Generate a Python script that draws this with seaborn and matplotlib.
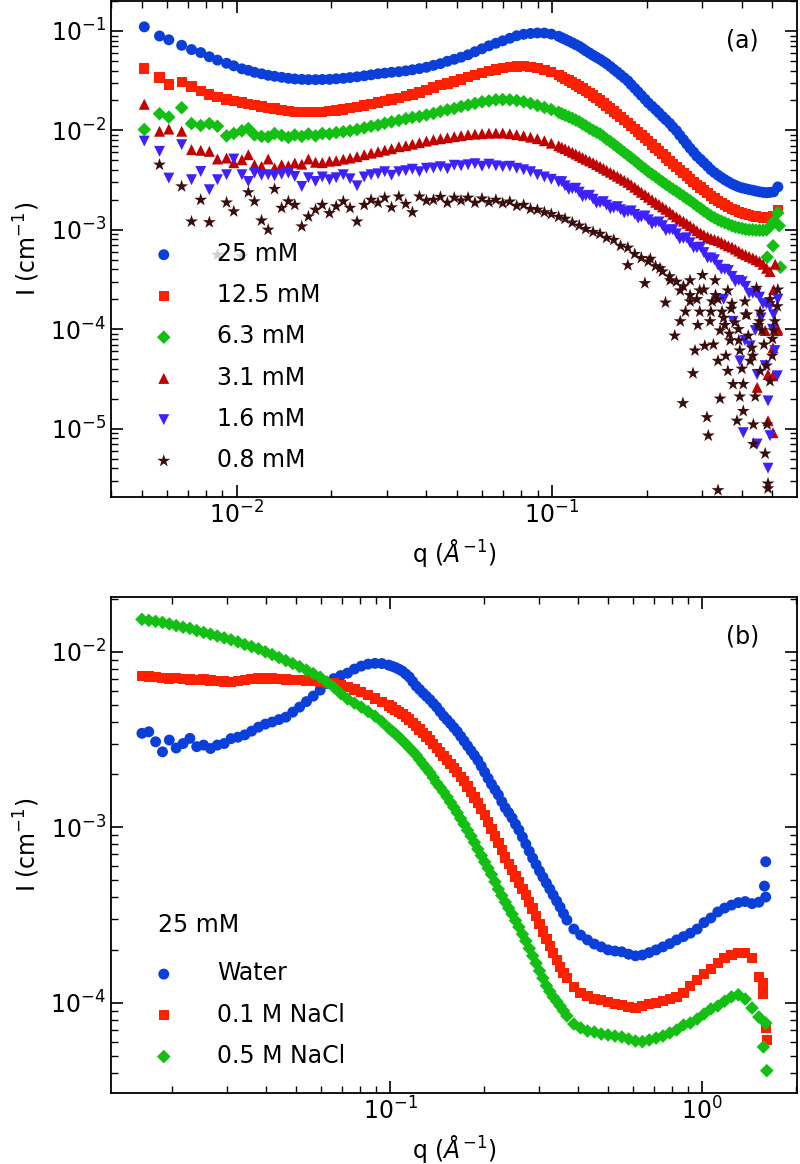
import numpy as np
import pandas as pd
import matplotlib
matplotlib.use("Agg")
import matplotlib.pyplot as plt
import seaborn as sns

# ---------------- panel (a): concentration series ----------------
q_a = [0.0051, 0.0057, 0.0061, 0.0067, 0.0072, 0.0077, 0.0082, 0.0087, 0.0093, 0.0098,
       0.0104, 0.0109, 0.0114, 0.0120, 0.0126, 0.0132, 0.0139, 0.0146, 0.0153, 0.0161,
       0.0169, 0.0178, 0.0187, 0.0197,
       0.0207, 0.0218, 0.0229, 0.0241, 0.0254, 0.0267, 0.0281, 0.0295, 0.0310, 0.0327,
       0.0344, 0.0361, 0.0380, 0.0400, 0.0421, 0.0443, 0.0466, 0.0490, 0.0515, 0.0542,
       0.0570, 0.0600, 0.0631, 0.0664, 0.0698, 0.0735, 0.0773, 0.0813, 0.0855, 0.0899,
       0.0946, 0.0995, 0.105, 0.110, 0.116, 0.122, 0.128, 0.135, 0.142, 0.149,
       0.157, 0.165, 0.174, 0.183, 0.192, 0.202, 0.213, 0.224, 0.236, 0.248,
       0.261, 0.274, 0.288, 0.303, 0.319, 0.336, 0.353, 0.372, 0.391, 0.411,
       0.433, 0.455, 0.479, 0.504, 0.520]

i_25mM = [0.110, 0.089, 0.0815, 0.0718, 0.065, 0.0606, 0.055, 0.0509, 0.0473, 0.0446,
          0.0416, 0.0402, 0.0384, 0.0371, 0.0358, 0.0350, 0.0342, 0.0334, 0.0329, 0.0326,
          0.0324, 0.0324, 0.0325, 0.0326,
          0.0330, 0.0334, 0.0340, 0.0346, 0.0354, 0.0362, 0.0371, 0.0377, 0.0384, 0.0389,
          0.0397, 0.0407, 0.0418, 0.0431, 0.0451, 0.0469, 0.0496, 0.0519, 0.0544, 0.0576,
          0.0618, 0.0662, 0.0709, 0.0752, 0.0796, 0.0844, 0.0895, 0.0926, 0.0944, 0.0955,
          0.0953, 0.0930, 0.0884, 0.0825, 0.0760, 0.0701, 0.0632, 0.0569, 0.0519, 0.0469,
          0.0411, 0.0362, 0.0315, 0.0265, 0.0225, 0.0189, 0.0162, 0.0138, 0.0118, 0.00993,
          0.00806, 0.00662, 0.00550, 0.00473, 0.00402, 0.00354, 0.00319, 0.00290, 0.00270, 0.00259,
          0.00250, 0.00241, 0.00236, 0.00241, 0.00270]

i_12mM = [0.0418, 0.0340, 0.0290, 0.0306, 0.0277, 0.0249, 0.0230, 0.0215, 0.0205, 0.0198,
          0.0191, 0.0185, 0.0180, 0.0174, 0.0169, 0.0166, 0.0161, 0.0157, 0.0154, 0.0153,
          0.0152, 0.0152, 0.0154, 0.0156,
          0.0159, 0.0162, 0.0168, 0.0172, 0.0178, 0.0185, 0.0191, 0.0198, 0.0205, 0.0213,
          0.0220, 0.0230, 0.0241, 0.0253, 0.0270, 0.0284, 0.0297, 0.0311, 0.0326, 0.0346,
          0.0362, 0.0379, 0.0397, 0.0411, 0.0421, 0.0431, 0.0438, 0.0441, 0.0436, 0.0426,
          0.0407, 0.0384, 0.0358, 0.0330, 0.0304, 0.0277, 0.0250, 0.0225, 0.0200, 0.0177,
          0.0155, 0.0137, 0.0119, 0.0103, 0.0090, 0.0078, 0.0067, 0.00576, 0.00496, 0.00426,
          0.00375, 0.00326, 0.00284, 0.00250, 0.00218, 0.00194, 0.00177, 0.00162, 0.00152, 0.00143,
          0.00138, 0.00135, 0.00132, 0.00138, 0.00159]

i_6mM = [0.0102, 0.0147, 0.0136, 0.0169, 0.0117, 0.0112, 0.0117, 0.0110, 0.0088, 0.0093,
         0.0099, 0.0104, 0.0090, 0.0087, 0.0086, 0.0093, 0.0089, 0.0085, 0.0090, 0.0087,
         0.0092, 0.0088, 0.0093, 0.0092,
         0.0095, 0.0097, 0.0099, 0.0102, 0.0106, 0.0110, 0.0113, 0.0118, 0.0122, 0.0126,
         0.0131, 0.0135, 0.0138, 0.0143, 0.0148, 0.0155, 0.0161, 0.0166, 0.0174, 0.0180,
         0.0187, 0.0194, 0.0198, 0.0203, 0.0204, 0.0203, 0.0200, 0.0194, 0.0187, 0.0178,
         0.0170, 0.0162, 0.0152, 0.0142, 0.0132, 0.0122, 0.0111, 0.0100, 0.0092, 0.00815,
         0.00726, 0.0064, 0.00563, 0.00496, 0.00436, 0.00384, 0.00342, 0.00304, 0.0027, 0.00244,
         0.00218, 0.00196, 0.00174, 0.00155, 0.00138, 0.00126, 0.00118, 0.0011, 0.00105, 0.00101,
         0.0010, 0.00099, 0.0010, 0.0012, 0.00148]

i_3mM = [0.0183, 0.0098, 0.0103, 0.0098, 0.0064, 0.0063, 0.00615, 0.00515, 0.00527, 0.00473,
         0.00507, 0.00569, 0.00451, 0.00434, 0.00515, 0.00418, 0.00451, 0.00440, 0.00470, 0.00457,
         0.00515, 0.00478, 0.00473, 0.00490,
         0.00496, 0.00513, 0.00527, 0.00544, 0.00569, 0.0059, 0.0061, 0.00632, 0.00654, 0.00685,
         0.00701, 0.00726, 0.00752, 0.0078, 0.00806, 0.00825, 0.00844, 0.00864, 0.00884, 0.00905,
         0.00916, 0.00926, 0.00937, 0.0094, 0.0094, 0.00926, 0.00905, 0.00884, 0.00854, 0.00825,
         0.00787, 0.00743, 0.00701, 0.00654, 0.00603, 0.00556, 0.00513, 0.00473, 0.00434, 0.00397,
         0.00362, 0.0033, 0.0030, 0.00268, 0.00239, 0.00213, 0.00189, 0.0017, 0.00152, 0.00135,
         0.00122, 0.0011, 0.00098, 0.00089, 0.00082, 0.00078, 0.00072, 0.00067, 0.00061, 0.00056,
         0.00052, 0.00048, 0.00041, 0.00025, 0.0001]

i_1mM = [0.0078, 0.00615, 0.00331, 0.00718, 0.00319, 0.00386, 0.00253, 0.00319, 0.00358, 0.00515,
         0.00358, 0.00306, 0.00372, 0.00354, 0.00358, 0.0035, 0.00362, 0.00372, 0.00344, 0.00273,
         0.00334, 0.00306, 0.0034, 0.00319,
         0.00334, 0.00358, 0.00326, 0.00277, 0.0034, 0.00358, 0.00366, 0.00384, 0.00354, 0.00384,
         0.00393, 0.00407, 0.00384, 0.00416, 0.00418, 0.00431, 0.00411, 0.00446, 0.0044, 0.00451,
         0.00462, 0.00436, 0.00457, 0.0044, 0.00431, 0.00436, 0.00416, 0.00402, 0.00384, 0.00358,
         0.0034, 0.00322, 0.00304, 0.00277, 0.00259, 0.00239, 0.0022, 0.00203, 0.00187, 0.00177,
         0.00166, 0.00159, 0.00152, 0.00143, 0.00135, 0.00126, 0.00118, 0.0011, 0.001, 0.00091,
         0.00082, 0.00074, 0.00066, 0.00059, 0.00052, 0.00044, 0.0004, 0.00034, 0.00031, 0.00027,
         0.00023, 0.00021, 0.00018, 0.00014, 0.0002]

i_08mM = [np.nan, 0.00451, np.nan, 0.00273, 0.00121, 0.002, 0.00119, 0.00056, 0.00188, 0.00153,
          0.00054, 0.00238, 0.00193, 0.00124, 0.001, 0.00257, 0.00166, 0.00193, 0.00178, 0.00108,
          0.00136, 0.00159, 0.00178, 0.00147,
          0.00172, 0.00193, 0.00166, 0.00121, 0.00178, 0.002, 0.00187, 0.0021, 0.00168, 0.00216,
          0.00182, 0.0015, 0.00216, 0.00196, 0.002, 0.00214, 0.00187, 0.0021, 0.00197, 0.0021,
          0.00187, 0.00206, 0.0019, 0.002, 0.00185, 0.00192, 0.00174, 0.00178, 0.00162, 0.00159,
          0.0015, 0.00144, 0.00135, 0.00129, 0.00118, 0.0011, 0.00102, 0.00095, 0.00091, 0.00083,
          0.00079, 0.00069, 0.00066, 0.00057, 0.00052, 0.00048, 0.00043, 0.00038, 0.00034, 0.0003,
          0.00027, 0.00022, 0.0002, 0.00025, 0.00015, 0.0002, 0.00011, 0.00018, 0.000077, 0.00014,
          0.000054, 0.00012, 0.000043, 0.000097, 0.00025]

# extra readings between grid points where the bands fall steeply
q_a_mid = [0.1074, 0.1130, 0.1189, 0.1250, 0.1315, 0.1384, 0.1455, 0.1531, 0.1611, 0.1694,
           0.1782, 0.1875, 0.1972, 0.2075, 0.2183, 0.2296, 0.2415, 0.2541, 0.2673, 0.2812,
           0.2958, 0.3112, 0.3273, 0.3443, 0.3622, 0.3811, 0.4009, 0.4217, 0.4436, 0.4667,
           0.4909]
i_25mM_mid = [0.0854, 0.0792, 0.073, 0.0666, 0.06, 0.0543, 0.0493, 0.0439, 0.0386, 0.0338,
              0.0289, 0.0244, 0.0206, 0.0175, 0.015, 0.0128, 0.0108, 0.00895, 0.0073, 0.00604,
              0.0051, 0.00436, 0.00377, 0.00336, 0.00304, 0.0028, 0.00264, 0.00254, 0.00245, 0.00238,
              0.00238]
i_12mM_mid = [0.0344, 0.0317, 0.029, 0.0263, 0.0237, 0.0212, 0.0188, 0.0166, 0.0146, 0.0128,
              0.0111, 0.0096, 0.0084, 0.0072, 0.0062, 0.00534, 0.0046, 0.004, 0.0035, 0.00304,
              0.00266, 0.00233, 0.00206, 0.00185, 0.0017, 0.00157, 0.00147, 0.0014, 0.00136, 0.00133,
              0.00135]
i_6mM_mid = [0.0147, 0.0137, 0.0127, 0.0116, 0.0105, 0.0096, 0.0087, 0.0077, 0.0068, 0.006,
             0.0053, 0.00465, 0.0041, 0.00362, 0.00322, 0.00287, 0.00257, 0.00231, 0.00207, 0.00185,
             0.00164, 0.00146, 0.00132, 0.00122, 0.00114, 0.00107, 0.00103, 0.001, 0.00099, 0.00099,
             0.00108]
i_3mM_mid = [0.00677, 0.00628, 0.00579, 0.00534, 0.00493, 0.00453, 0.00415, 0.00379, 0.00346, 0.00315,
             0.00284, 0.00253, 0.00226, 0.00201, 0.0018, 0.00161, 0.00143, 0.00128, 0.00116, 0.00104,
             0.00093, 0.00085, 0.0008, 0.00075, 0.00069, 0.00064, 0.00058, 0.00054, 0.0005, 0.00045,
             0.00038]
i_1mM_mid = [0.00305, 0.00255, 0.00262, 0.00215, 0.00222, 0.00185, 0.00192, 0.00163, 0.00171, 0.00148,
             0.00155, 0.00131, 0.00138, 0.00114, 0.0012, 0.00098, 0.001, 0.00081, 0.00083, 0.00066,
             0.00067, 0.00052, 0.0005, 0.0004, 0.00039, 0.0003, 0.0003, 0.00023, 0.00023, 0.00018,
             0.00017]

# noisy high-q points (off the main grid)
q_tail_6mM = [0.530, 0.481, 0.502, 0.525]
i_tail_6mM = [4.2e-4, 5.3e-4, 6.9e-4, 1.1e-3]

q_tail_3mM = [0.518, 0.502, 0.484, 0.502, 0.484, 0.502, 0.447, 0.474, 0.491, 0.510]
i_tail_3mM = [9.7e-5, 6.5e-5, 3.5e-5, 3.4e-5, 1.2e-5, 9.1e-6, 2.6e-5, 9.7e-5, 1.9e-4, 4.5e-4]

q_tail_1mM = [0.404, 0.447, 0.491, 0.484, 0.484, 0.447, 0.394, 0.425, 0.474, 0.509,
              0.518, 0.375, 0.409, 0.441, 0.350, 0.460, 0.500]
i_tail_1mM = [9.1e-6, 7.0e-6, 8.5e-6, 4.0e-6, 1.9e-5, 3.5e-5, 4.8e-5, 6.8e-5, 4.3e-5, 6.1e-5,
              3.4e-5, 1.2e-4, 7.7e-5, 9.7e-5, 2.0e-4, 1.3e-4, 1.0e-4]

q_tail_08mM = [0.174, 0.197, 0.205, 0.220, 0.229, 0.237, 0.245, 0.255, 0.255, 0.260,
               0.274, 0.274, 0.280, 0.284, 0.294, 0.294, 0.305, 0.310, 0.313, 0.317,
               0.322, 0.329, 0.336, 0.336, 0.341, 0.341, 0.346, 0.356, 0.361, 0.361,
               0.367, 0.375, 0.380, 0.386, 0.394, 0.394, 0.404, 0.404, 0.409, 0.419,
               0.425, 0.435, 0.435, 0.441, 0.457, 0.457, 0.463, 0.474, 0.481, 0.484,
               0.484, 0.491, 0.491, 0.499, 0.509, 0.518,
               0.300, 0.330, 0.350, 0.370, 0.390, 0.415, 0.430, 0.450, 0.470, 0.500,
               0.265, 0.290, 0.325, 0.365, 0.400, 0.445]
i_tail_08mM = [4.4e-4, 2.9e-4, 5.1e-4, 4.1e-4, 1.85e-4, 3.1e-4, 8.6e-5, 2.45e-4, 1.2e-4, 1.8e-5,
               1.9e-4, 3.1e-4, 3.6e-5, 6.1e-5, 1.5e-4, 2.45e-4, 6.8e-5, 1.3e-5, 8.5e-6, 1.2e-4,
               1.9e-4, 3.1e-4, 2.4e-6, 4.8e-5, 2.0e-5, 9.7e-5, 1.5e-4, 5.4e-5, 3.8e-5, 2.45e-4,
               7.7e-5, 2.8e-5, 1.17e-4, 1.2e-5, 6.1e-5, 2.1e-5, 1.5e-5, 2.8e-5, 1.9e-4, 8.6e-5,
               4.8e-5, 1.1e-5, 7.0e-6, 2.1e-5, 3.8e-5, 1.5e-4, 9.7e-5, 5.6e-6, 1.1e-5, 2.8e-6,
               2.5e-6, 3.0e-5, 2.0e-4, 5.4e-5, 1.2e-4, 1.7e-4,
               3.5e-4, 2.2e-4, 1.3e-4, 1.6e-4, 1.0e-4, 1.4e-4, 6.5e-5, 1.1e-4, 7.0e-5, 8.0e-5,
               1.5e-4, 1.1e-4, 7.0e-5, 9.0e-5, 4.0e-5, 2.6e-4]

# ---------------- panel (b): 25 mM with salt ----------------
q_b = [0.01596, 0.01679, 0.01766, 0.01858, 0.01954, 0.02056, 0.02163, 0.02275, 0.02393, 0.02518,
       0.02649, 0.02786, 0.02931, 0.03083, 0.03243, 0.03412, 0.03589, 0.03776, 0.03972, 0.04178,
       0.04395, 0.04624, 0.04864, 0.05117, 0.05383, 0.05662, 0.05957, 0.06266, 0.06592, 0.06934,
       0.07295, 0.07674, 0.08072, 0.08492, 0.08933, 0.09397, 0.09886, 0.1040, 0.1094, 0.1151,
       0.1211, 0.1274, 0.1340, 0.1409, 0.1483, 0.1560, 0.1641, 0.1726, 0.1816, 0.1910,
       0.2009, 0.2113, 0.2223, 0.2339, 0.2460, 0.2588, 0.2723, 0.2864, 0.3013, 0.3170,
       0.3334, 0.3508, 0.3690, 0.3882, 0.4083, 0.4295, 0.4519, 0.4753, 0.5000, 0.5260,
       0.5534, 0.5821, 0.6124, 0.6442, 0.6776, 0.7129, 0.7499, 0.7889, 0.8299, 0.8730,
       0.9183, 0.9661, 1.016, 1.069, 1.125, 1.183, 1.245, 1.309, 1.377, 1.449,
       1.524, 1.603]

i_water = [0.00343, 0.0035, 0.00307, 0.00269, 0.00314, 0.00283, 0.003, 0.00321, 0.00288, 0.00294,
           0.00281, 0.00294, 0.003, 0.0032, 0.00326, 0.00336, 0.00353, 0.00372, 0.00387, 0.00398,
           0.00411, 0.00424, 0.00453, 0.00484, 0.0052, 0.00559, 0.00605, 0.00659, 0.00703, 0.00732,
           0.00756, 0.00797, 0.00829, 0.00851, 0.00859, 0.00857, 0.0084, 0.00813, 0.00776, 0.00718,
           0.00638, 0.00582, 0.00534, 0.00484, 0.0043, 0.0039, 0.00351, 0.0031, 0.00273, 0.00241,
           0.00206, 0.00176, 0.00153, 0.00129, 0.00113, 0.000964, 0.000802, 0.000667, 0.000563, 0.000481,
           0.000411, 0.000351, 0.000296, 0.000263, 0.000243, 0.000228, 0.000216, 0.000208, 0.0002, 0.000197,
           0.000195, 0.000189, 0.000185, 0.000187, 0.000193, 0.0002, 0.000208, 0.000217, 0.000228, 0.000238,
           0.000249, 0.000263, 0.000286, 0.000304, 0.000329, 0.000346, 0.00036, 0.000372, 0.000377, 0.000367,
           0.000374, 0.0004]

i_nacl_01 = [0.00727, 0.00722, 0.00718, 0.00708, 0.00704, 0.00708, 0.00699, 0.00695, 0.0069, 0.00695,
             0.00686, 0.00681, 0.00677, 0.00675, 0.00681, 0.0069, 0.00699, 0.00704, 0.00705, 0.00704,
             0.00699, 0.00695, 0.0069, 0.0069, 0.00686, 0.00681, 0.00677, 0.00667, 0.00659, 0.00646,
             0.00629, 0.00609, 0.00589, 0.00566, 0.00541, 0.00517, 0.00494, 0.00468, 0.00441, 0.00411,
             0.00377, 0.00344, 0.00314, 0.00283, 0.00255, 0.00229, 0.00206, 0.00183, 0.00159, 0.00137,
             0.00117, 0.000977, 0.000813, 0.000672, 0.00057, 0.000484, 0.000411, 0.000344, 0.000281, 0.000231,
             0.000192, 0.00016, 0.000138, 0.000123, 0.000114, 0.000109, 0.000105, 0.000104, 0.000101, 0.0000983,
             0.000097, 0.0000945, 0.0000933, 0.0000958, 0.0000983, 0.0000996, 0.000102, 0.000105, 0.000108, 0.000114,
             0.000125, 0.000135, 0.000146, 0.000156, 0.000168, 0.00018, 0.000187, 0.000192, 0.000192, 0.00018,
             0.00014, 0.0000718]

i_nacl_05 = [0.0153, 0.0151, 0.0149, 0.0147, 0.0144, 0.0141, 0.0138, 0.0136, 0.0132, 0.0129,
             0.0126, 0.0123, 0.0120, 0.0117, 0.0114, 0.0110, 0.0107, 0.0104, 0.0100, 0.00964,
             0.00927, 0.00891, 0.00857, 0.00823, 0.00787, 0.00751, 0.00717, 0.00672, 0.00629, 0.00578,
             0.00538, 0.0051, 0.00484, 0.00456, 0.0043, 0.004, 0.00367, 0.0034, 0.00312, 0.00284,
             0.00258, 0.00229, 0.00205, 0.00179, 0.00159, 0.00139, 0.00121, 0.00104, 0.000891, 0.000751,
             0.000634, 0.000538, 0.000444, 0.000375, 0.00032, 0.00027, 0.000225, 0.000185, 0.000152, 0.000125,
             0.000108, 0.0000958, 0.000084, 0.0000756, 0.0000718, 0.000069, 0.0000681, 0.0000663, 0.0000655, 0.0000646,
             0.0000638, 0.0000621, 0.0000605, 0.00006, 0.0000613, 0.0000629, 0.0000646, 0.0000672, 0.0000699, 0.0000746,
             0.0000766, 0.0000807, 0.0000862, 0.0000921, 0.0000958, 0.000102, 0.000108, 0.000111, 0.000105, 0.0000933,
             0.0000829, 0.0000766]

# extra readings on the steep part of panel (b)
q_b_mid = [0.1014, 0.1067, 0.1122, 0.1180, 0.1242, 0.1306, 0.1374, 0.1445, 0.1521, 0.1600,
           0.1683, 0.1770, 0.1862, 0.1959, 0.2061, 0.2168, 0.2280, 0.2399, 0.2523, 0.2655,
           0.2793, 0.2938, 0.3090, 0.3251, 0.3420, 0.3597]
i_water_mid = [0.00827, 0.00795, 0.00747, 0.00677, 0.0061, 0.00558, 0.00508, 0.00456, 0.0041, 0.0037,
               0.0033, 0.00291, 0.00257, 0.00223, 0.0019, 0.00164, 0.0014, 0.00121, 0.00104, 0.00088,
               0.00073, 0.000613, 0.00052, 0.000445, 0.00038, 0.000322]
i_nacl_01_mid = [0.00481, 0.00454, 0.00426, 0.00394, 0.0036, 0.00329, 0.00298, 0.00269, 0.00242, 0.00217,
                 0.00194, 0.00171, 0.00148, 0.00127, 0.00107, 0.00089, 0.00074, 0.00062, 0.000525, 0.000446,
                 0.000376, 0.000311, 0.000255, 0.00021, 0.000175, 0.000148]
i_nacl_05_mid = [0.00353, 0.00326, 0.00298, 0.00271, 0.00243, 0.00217, 0.00192, 0.00169, 0.00149, 0.0013,
                 0.00112, 0.00096, 0.00082, 0.00069, 0.000584, 0.000489, 0.000408, 0.000346, 0.000294, 0.000246,
                 0.000204, 0.000168, 0.000138, 0.000116, 0.000102, 0.00009]

q_tail_water = [1.588, 1.603]
i_tail_water = [4.62e-4, 6.36e-4]
q_tail_01 = [1.569, 1.569, 1.616]
i_tail_01 = [1.29e-4, 1.13e-4, 6.13e-5]
q_tail_05 = [1.576, 1.616]
i_tail_05 = [5.6e-5, 4.1e-5]

BLUE = "#0a3fd9"
RED = "#ff2000"
GREEN = "#12bf12"
DARKRED = "#c20000"
VIOLET = "#3d22ff"
BROWN = "#3a0c0c"

FS = 17
# marker areas (pt^2), tuned per shape so they look alike
SIZES = {"o": 62, "s": 55, "D": 48, "^": 62, "v": 62, "*": 95}

plt.rcParams["font.family"] = ["DejaVu Sans"]
plt.rcParams["mathtext.fontset"] = "dejavusans"


def make_df(*pairs):
    # pairs of (q list, I list) joined into one table
    qs, vals = [], []
    for q, i in pairs:
        qs += list(q)
        vals += list(i)
    return pd.DataFrame({"q": qs, "I": vals}).dropna()


def style_axes(ax):
    ax.set_xscale("log")
    ax.set_yscale("log")
    ax.tick_params(which="both", direction="in", top=True, right=True, labelsize=FS)
    ax.tick_params(which="major", length=8.5, width=1.2)
    ax.tick_params(which="minor", length=5, width=1.0)
    for sp in ax.spines.values():
        sp.set_linewidth(1.3)
    ax.set_ylabel("I (cm$^{-1}$)", fontsize=FS, labelpad=6)
    ax.set_xlabel(r"q ($\AA^{-1}$)", fontsize=FS, labelpad=6)


def draw(ax, series):
    for label, df, color, marker in series:
        sns.scatterplot(data=df, x="q", y="I", color=color, marker=marker, s=SIZES[marker],
                        linewidth=0, edgecolor="none", label=label, ax=ax)


fig = plt.figure(figsize=(8, 11.64), dpi=100)
ax_a = fig.add_axes([0.13875, 0.5730, 0.8575, 0.4261])
ax_b = fig.add_axes([0.13875, 0.06125, 0.8575, 0.4261])

legend_kw = dict(loc="lower left", bbox_to_anchor=(0.058, 0.036), borderaxespad=0,
                 frameon=True, framealpha=0.8, edgecolor="none", fontsize=FS,
                 handlelength=0.5, handletextpad=2.0, labelspacing=0.73, borderpad=0.3)

# panel (a)
draw(ax_a, [
    ("25 mM", make_df((q_a, i_25mM), (q_a_mid, i_25mM_mid)), BLUE, "o"),
    ("12.5 mM", make_df((q_a, i_12mM), (q_a_mid, i_12mM_mid)), RED, "s"),
    ("6.3 mM", make_df((q_a, i_6mM), (q_a_mid, i_6mM_mid), (q_tail_6mM, i_tail_6mM)), GREEN, "D"),
    ("3.1 mM", make_df((q_a, i_3mM), (q_a_mid, i_3mM_mid), (q_tail_3mM, i_tail_3mM)), DARKRED, "^"),
    ("1.6 mM", make_df((q_a, i_1mM), (q_a_mid, i_1mM_mid), (q_tail_1mM, i_tail_1mM)), VIOLET, "v"),
    ("0.8 mM", make_df((q_a, i_08mM), (q_tail_08mM, i_tail_08mM)), BROWN, "*"),
])
style_axes(ax_a)
ax_a.set_xlim(0.004, 0.598)
ax_a.set_ylim(2.05e-6, 0.2)
ax_a.text(0.921, 0.921, "(a)", transform=ax_a.transAxes, ha="center", va="center", fontsize=FS)
ax_a.legend(**legend_kw)

# panel (b)
draw(ax_b, [
    ("Water", make_df((q_b, i_water), (q_b_mid, i_water_mid), (q_tail_water, i_tail_water)), BLUE, "o"),
    ("0.1 M NaCl", make_df((q_b, i_nacl_01), (q_b_mid, i_nacl_01_mid), (q_tail_01, i_tail_01)), RED, "s"),
    ("0.5 M NaCl", make_df((q_b, i_nacl_05), (q_b_mid, i_nacl_05_mid), (q_tail_05, i_tail_05)), GREEN, "D"),
])
style_axes(ax_b)
ax_b.set_xlim(0.0127, 2.02)
ax_b.set_ylim(3.07e-5, 0.0206)
ax_b.text(0.921, 0.919, "(b)", transform=ax_b.transAxes, ha="center", va="center", fontsize=FS)
leg_b = ax_b.legend(title="25 mM", title_fontsize=FS, alignment="left", **legend_kw)
# a little more room between the legend title and the first entry
leg_b._legend_box.sep += 5

fig.savefig("out.png", dpi=100)
